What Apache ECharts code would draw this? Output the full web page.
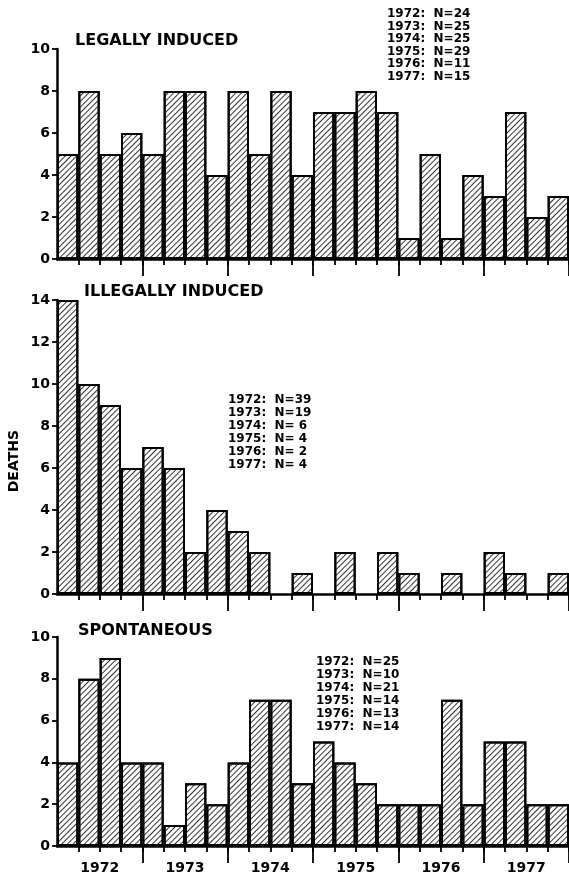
<!DOCTYPE html>
<html>
<head>
<meta charset="utf-8">
<script src="https://cdn.jsdelivr.net/npm/echarts@6/dist/echarts.min.js"></script>
<style>
html,body{margin:0;padding:0;background:#fff;}
#chart{width:569px;height:876px;}
</style>
</head>
<body>
<div id="chart"></div>
<script>
var years = ['1972','1973','1974','1975','1976','1977'];
var quarters = [];
years.forEach(function(y){ for (var q=1;q<=4;q++) quarters.push(y+' Q'+q); });

var legally   = [5,8,5,6, 5,8,8,4, 8,5,8,4, 7,7,8,7, 1,5,1,4, 3,7,2,3];
var illegally = [14,10,9,6, 7,6,2,4, 3,2,0,1, 0,2,0,2, 1,0,1,0, 2,1,0,1];
var spontaneous = [4,8,9,4, 4,1,3,2, 4,7,7,3, 5,4,3,2, 2,2,7,2, 5,5,2,2];

var legallyN = [24,25,25,29,11,15];
var illegallyN = [39,19,6,4,2,4];
var spontaneousN = [25,10,21,14,13,14];

var panelTitles = ['LEGALLY INDUCED','ILLEGALLY INDUCED','SPONTANEOUS'];
var yMax = [10,14,10];

var FONT = 'DejaVu Sans';

function nText(ns){
  return years.map(function(y,i){
    var n = String(ns[i]);
    if (n.length < 2) n = ' ' + n;
    return y + ':  N=' + n;
  }).join('\n');
}

var grids = [
  {left:57, top:49, width:513, height:210},
  {left:57, top:300, width:513, height:294},
  {left:57, top:637, width:513, height:209}
];

var xAxes = [], yAxes = [], series = [];
var datasets = [legally, illegally, spontaneous];
grids.forEach(function(g, i){
  xAxes.push({
    type:'category', gridIndex:i, data:quarters, boundaryGap:true,
    axisLine:{show:true, lineStyle:{color:'#000', width:2.5}},
    axisTick:{show:true, length:6, lineStyle:{color:'#000', width:1.8},
      interval:function(idx){ return idx !== 0; }},
    axisLabel:{show:false}, splitLine:{show:false}
  });
  xAxes.push({
    type:'category', gridIndex:i, data:years, boundaryGap:true, position:'bottom',
    axisLine:{show:false},
    axisTick:{show:true, length:17, lineStyle:{color:'#000', width:1.8},
      interval:function(idx){ return idx !== 0; }},
    axisLabel:{show: i===2, color:'#000', fontFamily:FONT, fontWeight:'bold', fontSize:14, margin:15, interval:0},
    splitLine:{show:false}
  });
  yAxes.push({
    type:'value', gridIndex:i, min:0, max:yMax[i], interval:2,
    axisLine:{show:true, lineStyle:{color:'#000', width:2.5}},
    axisTick:{show:true, length:5, lineStyle:{color:'#000', width:1.8}},
    axisLabel:{color:'#000', fontFamily:FONT, fontWeight:'bold', fontSize:14, margin:7},
    splitLine:{show:false}
  });
  series.push({
    type:'bar', xAxisIndex:i*2, yAxisIndex:i,
    data:datasets[i].map(function(v){ return v === 0 ? null : v; }),
    barWidth:'100%', barGap:'0%', barCategoryGap:'0%',
    itemStyle:{
      color:'#fff', borderColor:'#000', borderWidth:2,
      decal:{symbol:'rect', symbolSize:1, dashArrayX:[1,0], dashArrayY:[1,3], rotation:-Math.PI/4, color:'#333'}
    },
    silent:true
  });
});

var option = {
  animation:false,
  backgroundColor:'#fff',
  aria:{enabled:true, decal:{show:true}},
  grid:grids,
  xAxis:xAxes,
  yAxis:yAxes,
  series:series,
  graphic:[
    {type:'text', left:75, top:33, style:{text:panelTitles[0], font:'bold 16px "'+FONT+'"', fill:'#000'}},
    {type:'text', left:84, top:284, style:{text:panelTitles[1], font:'bold 16px "'+FONT+'"', fill:'#000'}},
    {type:'text', left:78, top:623, style:{text:panelTitles[2], font:'bold 16px "'+FONT+'"', fill:'#000'}},
    {type:'text', left:387, top:8, style:{text:nText(legallyN), font:'bold 12px "'+FONT+'"', fill:'#000', lineHeight:12.5}},
    {type:'text', left:228, top:393, style:{text:nText(illegallyN), font:'bold 12px "'+FONT+'"', fill:'#000', lineHeight:13}},
    {type:'text', left:316, top:655, style:{text:nText(spontaneousN), font:'bold 12px "'+FONT+'"', fill:'#000', lineHeight:13}},
    {type:'text', left:7, top:430, rotation:Math.PI/2, style:{text:'DEATHS', font:'bold 14px "'+FONT+'"', fill:'#000'}}
  ]
};

var chart = echarts.init(document.getElementById('chart'), null, {renderer:'canvas'});
chart.setOption(option);
</script>
</body>
</html>
